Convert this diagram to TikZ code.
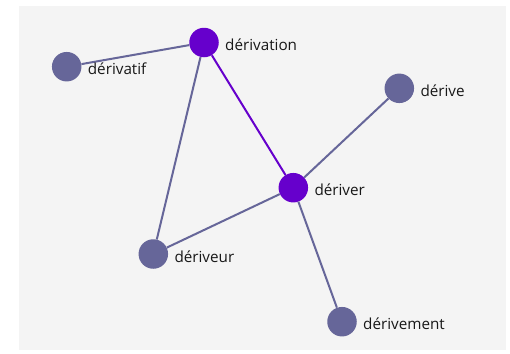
\documentclass[tikz,border=0pt]{standalone}
\usepackage{fontspec}
\setmainfont{Open Sans}
\definecolor{bgc}{RGB}{244,244,244}
\definecolor{hot}{RGB}{102,0,204}
\definecolor{cold}{RGB}{102,102,153}
\definecolor{txt}{RGB}{24,24,24}
\begin{document}
\begin{tikzpicture}[x=1bp,y=-1bp,
  dot/.style={circle,fill=cold,minimum size=29.5bp,inner sep=0pt},
  hotdot/.style={dot,fill=hot},
  lbl/.style={anchor=west,xshift=20bp,yshift=-2.5bp,font=\fontsize{15.3}{17}\selectfont,text=txt,inner sep=1bp},
  link/.style={draw=cold,line width=2bp},
  hotlink/.style={draw=hot,line width=2bp}]
\useasboundingbox (0,0) rectangle (510,353);
\fill[bgc] (19,6) rectangle (506,350);
\node[dot] (tif) at (66.7,66.7) {};
\node[hotdot] (tion) at (204,42.5) {};
\node[dot] (ve) at (399.3,88.3) {};
\node[hotdot] (ver) at (293.3,187.7) {};
\node[dot] (veur) at (153.3,254) {};
\node[dot] (ment) at (342,321.7) {};
\draw[link] (tif) -- (tion);
\draw[link] (tion) -- (veur);
\draw[hotlink] (tion) -- (ver);
\draw[link] (ver) -- (ve);
\draw[link] (ver) -- (veur);
\draw[link] (ver) -- (ment);
\node[lbl] at (tif.center) {dérivatif};
\node[lbl] at (tion.center) {dérivation};
\node[lbl] at (ve.center) {dérive};
\node[lbl] at (ver.center) {dériver};
\node[lbl] at (veur.center) {dériveur};
\node[lbl] at (ment.center) {dérivement};
\end{tikzpicture}
\end{document}
